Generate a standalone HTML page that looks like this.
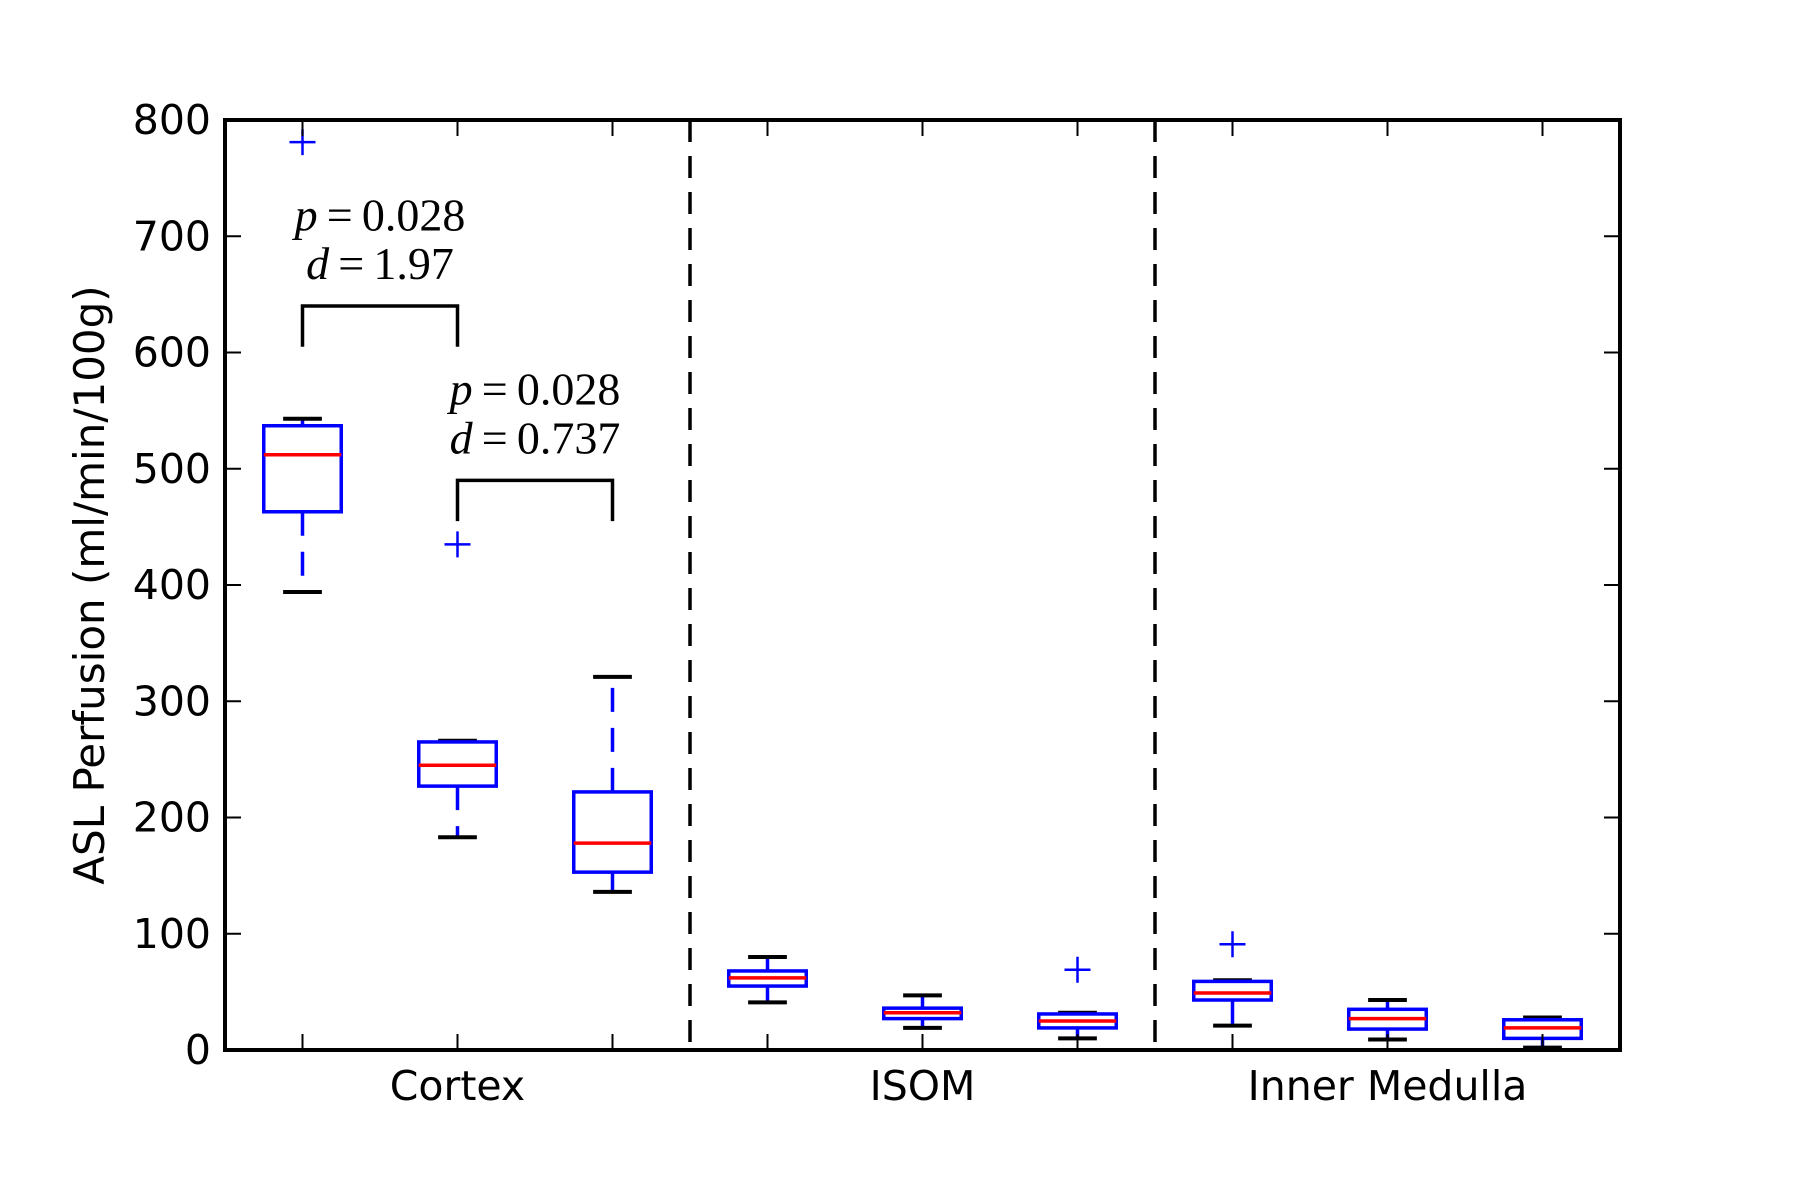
<!DOCTYPE html>
<html><head><meta charset="utf-8"><style>
body{margin:0;background:#fff;}
svg{display:block;}
text{font-family:"DejaVu Sans","Liberation Sans",sans-serif;}
.m{font-family:"Liberation Serif","DejaVu Serif",serif;}
</style></head><body>
<svg id="chart" width="1800" height="1200" viewBox="0 0 1800 1200">
<rect width="1800" height="1200" fill="#fff"/>
<g id="g"></g>
</svg>
<script>
const categories=["Cortex","ISOM","Inner Medulla"];
const whiskerLow=[394,183,136,41,19,10,21,9,2];
const q1=[463,227,153,55,27,19,43,18,10];
const medians=[512,245,178,62,32,25,49,27,19];
const q3=[537,265,222,68,36,31,59,35,26];
const whiskerHigh=[543,266,321,80,47,32,60,43,28];
const fliers=[[781],[435],[],[],[],[69],[91],[],[]];
const yTicks=[0,100,200,300,400,500,600,700,800];
const brackets=[{a:1,b:2,top:640,leg:605,p:"0.028",d:"1.97"},{a:2,b:3,top:490,leg:455,p:"0.028",d:"0.737"}];

const L=225,R=1620,T=120,B=1050;
const X=v=>L+(v-0.5)/9*(R-L);
const Y=v=>B-v/800*(B-T);
const g=document.getElementById('g');
const NS="http://www.w3.org/2000/svg";
function mk(tag,attrs,parent){const e=document.createElementNS(NS,tag);for(const k in attrs)e.setAttribute(k,attrs[k]);(parent||g).appendChild(e);return e;}

[3.5,6.5].forEach((s,i)=>{
  const l=mk('line',{x1:X(s),x2:X(s),y1:T,y2:B,stroke:'#000','stroke-width':3.5,'stroke-dasharray':'22,14'});
  
  
});

for(let i=0;i<9;i++){
  const x=X(i+1),hw=(X(1.25)-X(1)),cw=(X(1.125)-X(1));
  const grp=mk('g',{});
  
  
  mk('line',{x1:x,x2:x,y1:Y(q3[i]),y2:Y(whiskerHigh[i]),stroke:'#00f','stroke-width':3.5,'stroke-dasharray':'24,16'},grp);
  mk('line',{x1:x,x2:x,y1:Y(q1[i]),y2:Y(whiskerLow[i]),stroke:'#00f','stroke-width':3.5,'stroke-dasharray':'24,16'},grp);
  mk('line',{x1:x-cw,x2:x+cw,y1:Y(whiskerHigh[i]),y2:Y(whiskerHigh[i]),stroke:'#000','stroke-width':4},grp);
  mk('line',{x1:x-cw,x2:x+cw,y1:Y(whiskerLow[i]),y2:Y(whiskerLow[i]),stroke:'#000','stroke-width':4},grp);
  mk('rect',{x:x-hw,y:Y(q3[i]),width:2*hw,height:Y(q1[i])-Y(q3[i]),fill:'none',stroke:'#00f','stroke-width':3.5},grp);
  mk('line',{x1:x-hw,x2:x+hw,y1:Y(medians[i]),y2:Y(medians[i]),stroke:'#f00','stroke-width':3.5},grp);
  fliers[i].forEach(f=>{
    const p=mk('path',{d:`M${x-13},${Y(f)}h26M${x},${Y(f)-13}v26`,stroke:'#00f','stroke-width':2.5,fill:'none'},grp);
    
    
  });
}

brackets.forEach((b,i)=>{
  const p=mk('path',{d:`M${X(b.a)},${Y(b.leg)}V${Y(b.top)}H${X(b.b)}V${Y(b.leg)}`,stroke:'#000','stroke-width':3.5,fill:'none'});
  
  
  const cx=(X(b.a)+X(b.b))/2;
  const t1=mk('text',{x:cx,y:Y(b.top+78)+15,'text-anchor':'middle','font-size':46,class:'m'});
  t1.innerHTML='<tspan font-style="italic">p</tspan>\u2009=\u2009'+b.p;
  
  
  const t2=mk('text',{x:cx,y:Y(b.top+36)+15,'text-anchor':'middle','font-size':46,class:'m'});
  t2.innerHTML='<tspan font-style="italic">d</tspan>\u2009=\u2009'+b.d;
  
  
});

const fr=mk('rect',{x:L,y:T,width:R-L,height:B-T,fill:'none',stroke:'#000','stroke-width':4});



yTicks.forEach(v=>{
  mk('line',{x1:L,x2:L+16,y1:Y(v),y2:Y(v),stroke:'#000','stroke-width':2});
  mk('line',{x1:R,x2:R-16,y1:Y(v),y2:Y(v),stroke:'#000','stroke-width':2});
  const t=mk('text',{x:L-14,y:Y(v)+14,'text-anchor':'end','font-size':41});
  t.textContent=v;
  
  
});
for(let i=1;i<=9;i++){
  mk('line',{x1:X(i),x2:X(i),y1:B,y2:B-16,stroke:'#000','stroke-width':2});
  mk('line',{x1:X(i),x2:X(i),y1:T,y2:T+16,stroke:'#000','stroke-width':2});
}
categories.forEach((c,i)=>{
  const t=mk('text',{x:X(3*i+2),y:1100,'text-anchor':'middle','font-size':41});
  t.textContent=c;
  
  
});
const yl=mk('text',{x:0,y:0,'text-anchor':'middle','font-size':42,transform:`translate(104,${(T+B)/2}) rotate(-90)`});
yl.textContent='ASL Perfusion (ml/min/100g)';


</script>
</body></html>
